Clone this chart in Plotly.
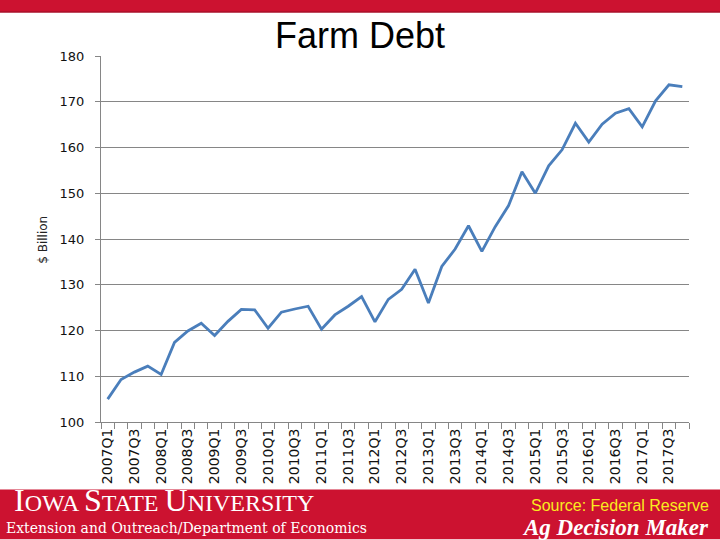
import plotly.graph_objects as go

quarters = [f"{y}Q{q}" for y in range(2007, 2018) for q in range(1, 5)]
debt = [105.0, 109.3, 110.9, 112.2, 110.4, 117.4, 119.9, 121.6, 118.9, 122.0,
        124.6, 124.5, 120.5, 124.0, 124.7, 125.3, 120.3, 123.4, 125.3, 127.4,
        121.9, 126.8, 129.0, 133.4, 126.0, 134.0, 137.8, 142.9, 137.3, 142.7,
        147.3, 154.7, 150.0, 156.0, 159.5, 165.3, 161.2, 165.1, 167.5, 168.5,
        164.5, 170.2, 173.7, 173.3]
tick_text = [q if i % 2 == 0 else "" for i, q in enumerate(quarters)]

W, H = 720, 540
L, R, T, B = 101, 689, 56, 422.5

def px(x):
    return (x - L) / (R - L)

def py(y):
    return (B - y) / (B - T)

RED = "#CC1230"

fig = go.Figure()
fig.add_trace(go.Scatter(x=quarters, y=debt, mode="lines",
                         line=dict(color="#4A7EBB", width=2.8),
                         hoverinfo="x+y", showlegend=False))

fig.update_layout(
    width=W, height=H,
    margin=dict(l=L, r=W - R, t=T, b=H - B, pad=0),
    paper_bgcolor="white", plot_bgcolor="white",
    xaxis=dict(type="category", range=[-0.5, len(quarters) - 0.5],
               tickmode="array", tickvals=quarters, ticktext=tick_text,
               tickson="boundaries", ticks="outside", ticklen=6,
               tickcolor="#868686", tickangle=-90,
               showline=True, linecolor="#868686", linewidth=1,
               showgrid=False, zeroline=False,
               tickfont=dict(family="DejaVu Sans", size=14, color="#111111")),
    yaxis=dict(range=[100, 180], dtick=10, tick0=100,
               ticks="outside", ticklen=5, tickcolor="#868686",
               showline=True, linecolor="#868686", linewidth=1,
               showgrid=True, gridcolor="#868686", gridwidth=1,
               zeroline=False, ticklabelstandoff=8,
               tickfont=dict(family="DejaVu Sans", size=13, color="#111111")),
    font=dict(family="Liberation Sans"),
)

shapes = [
    dict(type="rect", xref="paper", yref="paper", x0=px(0), x1=px(W),
         y0=py(12), y1=py(0), fillcolor=RED, line=dict(width=0), layer="above"),
    dict(type="line", xref="paper", yref="paper", x0=px(0), x1=px(W),
         y0=py(12), y1=py(12), line=dict(color="#A8102A", width=1.5)),
    dict(type="rect", xref="paper", yref="paper", x0=px(0), x1=px(W),
         y0=py(H), y1=py(490), fillcolor=RED, line=dict(width=0)),
]
fig.update_layout(shapes=shapes)

ann = []
ann.append(dict(text="Farm Debt", xref="paper", yref="paper", x=px(360), y=py(35),
                showarrow=False, xanchor="center", yanchor="middle",
                font=dict(family="Liberation Sans", size=36, color="black")))
ann.append(dict(text="$ Billion", xref="paper", yref="paper", x=px(43), y=py(240),
                showarrow=False, xanchor="center", yanchor="middle", textangle=-90,
                font=dict(family="DejaVu Sans", size=12, color="#222222")))
big, small = 32, 24
isu = (f"<span style='font-size:{big}px'>I</span>OWA "
       f"<span style='font-size:{big}px'>S</span>TATE "
       f"<span style='font-size:{big}px'>U</span>NIVERSITY")
ann.append(dict(text=isu, xref="paper", yref="paper", x=px(12), y=py(521),
                showarrow=False, xanchor="left", yanchor="bottom",
                font=dict(family="Liberation Serif", size=small, color="white")))
ann.append(dict(text="Extension and Outreach/Department of Economics",
                xref="paper", yref="paper", x=px(4), y=py(529),
                showarrow=False, xanchor="left", yanchor="middle",
                font=dict(family="DejaVu Serif", size=14, color="white")))
ann.append(dict(text="Source: Federal Reserve", xref="paper", yref="paper",
                x=px(711), y=py(506), showarrow=False, xanchor="right", yanchor="middle",
                font=dict(family="Liberation Sans", size=16, color="#FAEB1E")))
ann.append(dict(text="<b><i>Ag Decision Maker</i></b>", xref="paper", yref="paper",
                x=px(711), y=py(528), showarrow=False, xanchor="right", yanchor="middle",
                font=dict(family="Liberation Serif", size=23, color="white")))
fig.update_layout(annotations=ann)

fig.write_html("out.html",
               config={"displayModeBar": False},
               post_script="document.body.style.margin='0';"
                           "document.body.style.overflow='hidden';"
                           "document.documentElement.style.overflow='hidden';")
